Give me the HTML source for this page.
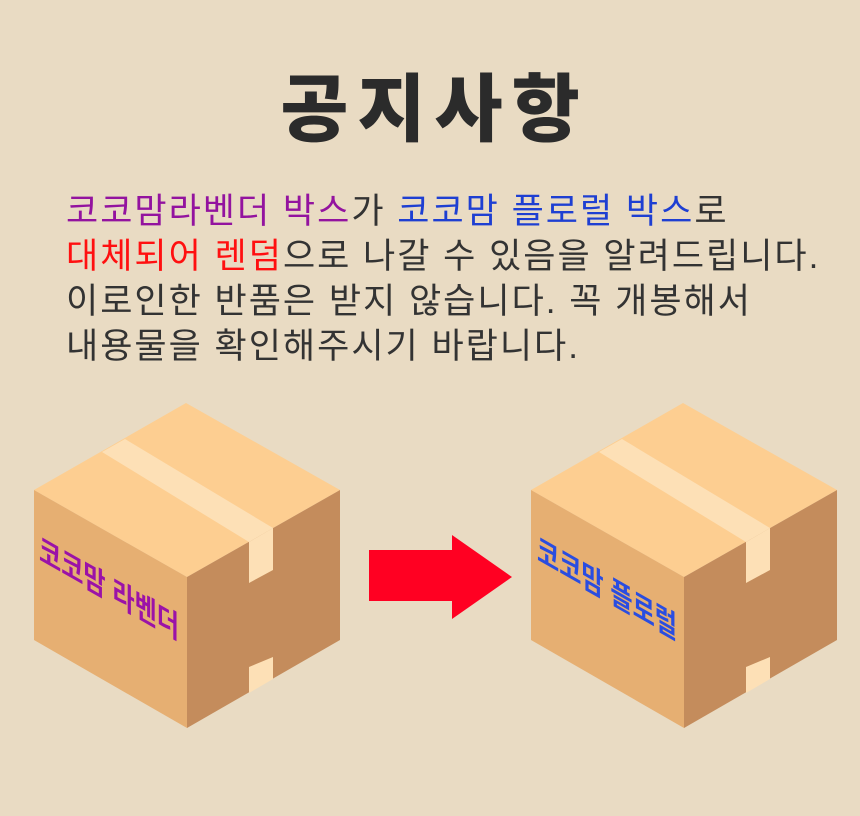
<!DOCTYPE html>
<html><head><meta charset="utf-8"><style>
body{margin:0;width:860px;height:816px;background:#e9dbc3;overflow:hidden;position:relative;font-family:"Liberation Sans","Noto Sans CJK KR",sans-serif}
.t{position:absolute;left:0;width:860px;top:50px;text-align:center;font-size:74px;font-weight:900;color:#2b2b2b;letter-spacing:9px;text-indent:9px}
.b{position:absolute;left:66px;top:189px;font-size:35px;line-height:45px;color:#333;white-space:nowrap;letter-spacing:2px}
.p{color:#93139f}.u{color:#1e3fd2}.r{color:#ff1010}
svg{position:absolute;left:0;top:0}
</style></head><body>
<div class="t">공지사항</div>
<div class="b"><span class="p">코코맘라벤더 박스</span>가 <span class="u">코코맘 플로럴 박스</span>로<br><span class="r">대체되어 렌덤</span>으로 나갈 수 있음을 알려드립니다.<br>이로인한 반품은 받지 않습니다. 꼭 개봉해서<br>내용물을 확인해주시기 바랍니다.</div>
<svg width="860" height="816">
<defs>
<g id="box">
<polygon points="186,403 340,490 187,577 34,490" fill="#fdce91"/>
<polygon points="34,490 187,577 187,728 34,640" fill="#e6af72"/>
<polygon points="187,577 340,490 340,640 187,728" fill="#c48c5c"/>
<polygon points="102,452 125,439 273,528 249,542" fill="#fde0b6"/>
<polygon points="249,542 273,528 273,570 249,583" fill="#fde0b6"/>
<polygon points="249,667 273,657 273,679 249,693" fill="#fde0b6"/>
</g>
</defs>
<use href="#box"/>
<use href="#box" transform="translate(497,0)"/>
<text transform="matrix(1,0.57,0,1,39,560)" font-size="32" font-weight="bold" fill="#9b12a8" textLength="140" lengthAdjust="spacingAndGlyphs" font-family="Liberation Sans,Noto Sans CJK KR,sans-serif">코코맘 라벤더</text>
<text transform="matrix(1,0.57,0,1,537,560)" font-size="32" font-weight="bold" fill="#2a4de0" textLength="140" lengthAdjust="spacingAndGlyphs" font-family="Liberation Sans,Noto Sans CJK KR,sans-serif">코코맘 플로럴</text>
<polygon points="369,550 452,550 452,535 512,577 452,619 452,601 369,601" fill="#ff0022"/>
</svg>
</body></html>
